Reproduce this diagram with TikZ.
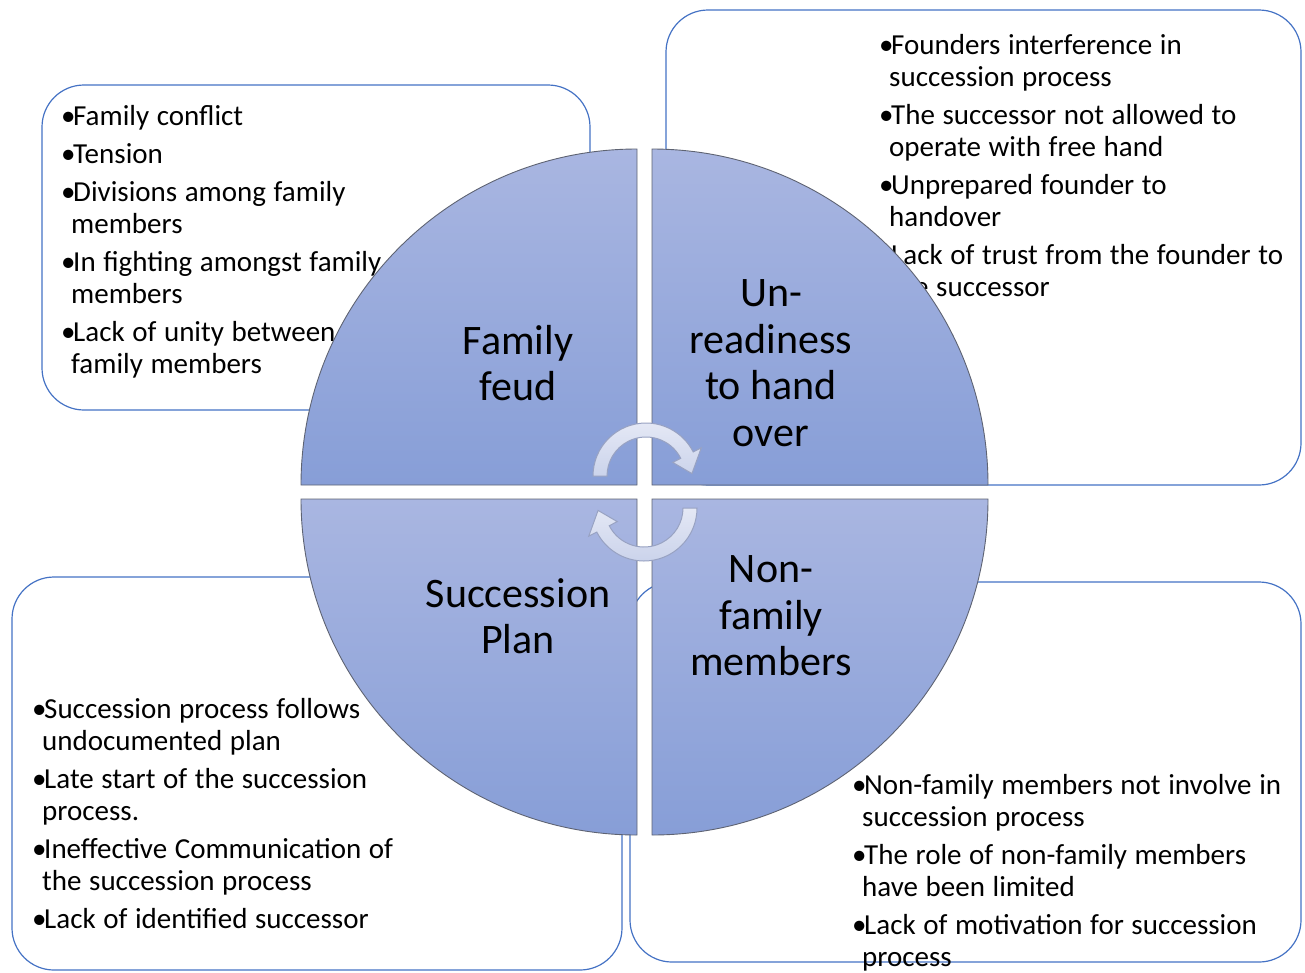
\documentclass[tikz,border=0pt]{standalone}
\usepackage{fontspec}
\setmainfont{Carlito}
\usepackage{tikz}
\usepackage{xcolor}
\definecolor{boxline}{HTML}{4472C4}
\definecolor{pietop}{HTML}{A9B6E1}
\definecolor{piebot}{HTML}{879ED7}
\definecolor{pieedge}{HTML}{5E6372}
\definecolor{spintop}{HTML}{E4E8F5}
\definecolor{spinbot}{HTML}{CBD3EB}
\definecolor{spinedge}{HTML}{98A2C2}

\newcommand{\itm}[1]{\hangindent=10pt\hangafter=1\noindent\makebox[12pt][l]{\textbullet}#1\par}

\tikzset{spin/.pic={
  \path[spinner] (180:53) arc (180:27:53) -- (27:62) -- (3:46) -- (27:30) -- (27:39) arc (27:180:39) -- cycle;
}}

\begin{document}
\begin{tikzpicture}[x=1pt,y=1pt]
\tikzstyle{every node}+=[inner sep=0pt]
\tikzstyle{listbox}=[draw=boxline, line width=1.2pt, rounded corners=42pt]
\tikzstyle{items}=[anchor=base west, text width=440pt, font=\fontsize{29}{32}\selectfont,
  execute at begin node={\setlength{\parskip}{6pt}\spaceskip=7.6pt plus 2pt minus 1pt\relax}]
\tikzstyle{quarter}=[draw=pieedge, line width=0.9pt, top color=pietop, bottom color=piebot]
\tikzstyle{bigtext}=[align=center, font=\fontsize{42}{46.5}\selectfont]
\tikzstyle{spinner}=[draw=spinedge, line width=1pt, top color=spintop, bottom color=spinbot]
\useasboundingbox (0,0) rectangle (1305,-972);

\draw[listbox] (42,-85) rectangle (590,-410);
\draw[listbox] (666,-10) rectangle (1301,-485);
\draw[listbox] (12,-577) rectangle (622,-970);
\draw[listbox] (630,-582) rectangle (1301,-962);

\node[items] (feuditems) at (61,-125) {\itm{Family conflict}\itm{Tension}\itm{Divisions among family\newline members}\itm{In fighting amongst family\newline members}\itm{Lack of unity between\newline family members}};
\node[items] (readyitems) at (879,-54) {\itm{Founders interference in\newline succession process}\itm{The successor not allowed to\newline operate with free hand}\itm{Unprepared founder to\newline handover}\itm{Lack of trust from the founder to\newline the successor}};
\node[items] (planitems) at (32,-718) {\itm{Succession process follows\newline undocumented plan}\itm{Late start of the succession\newline process.}\itm{Ineffective Communication of\newline the succession process}\itm{Lack of identified successor}};
\node[items] (nonfamitems) at (852,-794) {\itm{Non-family members not involve in\newline succession process}\itm{The role of non-family members\newline have been limited}\itm{Lack of motivation for succession\newline process}};

\shadedraw[quarter] (637,-485) -- (301,-485) arc (180:90:336) -- cycle;
\shadedraw[quarter] (652,-485) -- (652,-149) arc (90:0:336) -- cycle;
\shadedraw[quarter] (637,-499) -- (637,-835) arc (270:180:336) -- cycle;
\shadedraw[quarter] (652,-499) -- (988,-499) arc (0:-90:336) -- cycle;

\node[bigtext] (feud) at (518,-363) {Family\\feud};
\node[bigtext] (ready) at (771,-363) {Un-\\readiness\\to hand\\over};
\node[bigtext] (plan) at (518,-616) {Succession\\Plan};
\node[bigtext] (nonfam) at (771,-616) {Non-\\family\\members};

\pic (upper) at (646,-476) {spin};
\pic[rotate=180] (lower) at (644,-508) {spin};
\end{tikzpicture}
\end{document}
